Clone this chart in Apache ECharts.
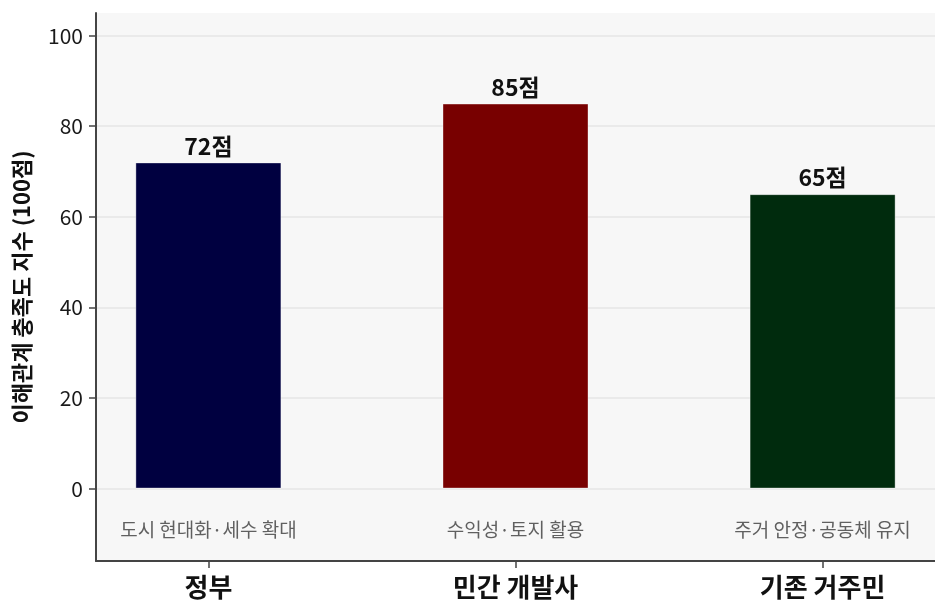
<!DOCTYPE html>
<html>
<head>
<meta charset="utf-8">
<script src="https://cdn.jsdelivr.net/npm/echarts@6/dist/echarts.min.js"></script>
<style>
  html, body { margin: 0; padding: 0; background: #ffffff; }
  #chart { width: 935px; height: 600px; }
</style>
</head>
<body>
<div id="chart"></div>
<script>
// Stakeholder groups and their satisfaction index (out of 100)
const categories = ['정부', '민간 개발사', '기존 거주민'];
const scores = [72, 85, 65];
const notes = ['도시 현대화·세수 확대', '수익성·토지 활용', '주거 안정·공동체 유지'];
const barColors = ['#000040', '#780000', '#002b0d'];
const yTicks = [0, 20, 40, 60, 80, 100];
const noteLevel = -9;

const FONT = '"Noto Sans CJK KR", "Noto Sans", sans-serif';

const chart = echarts.init(document.getElementById('chart'), null, { renderer: 'canvas' });

const positions = categories.map((_, i) => i);

chart.setOption({
  backgroundColor: '#ffffff',
  animation: false,
  textStyle: { fontFamily: FONT },
  grid: {
    left: 96, right: -5, top: 13, bottom: 35,
    show: true, backgroundColor: '#f7f7f7', borderWidth: 0
  },
  xAxis: {
    type: 'value',
    min: -0.366, max: 2.366,
    axisLine: { show: true, onZero: false, lineStyle: { color: '#444', width: 2 } },
    axisTick: { show: true, customValues: positions, length: 7, lineStyle: { color: '#444', width: 1.5 } },
    axisLabel: {
      customValues: positions,
      formatter: v => categories[Math.round(v)],
      fontFamily: FONT, fontSize: 26, fontWeight: 'bold', color: '#111', margin: 13
    },
    splitLine: { show: false }
  },
  yAxis: {
    type: 'value',
    min: -16, max: 105,
    name: '이해관계 충족도 지수 (100점)',
    nameLocation: 'middle',
    nameGap: 63,
    nameTextStyle: { fontFamily: FONT, fontSize: 22, fontWeight: 'bold', color: '#111' },
    axisLine: { show: true, onZero: false, lineStyle: { color: '#444', width: 2 } },
    axisTick: { show: true, customValues: yTicks, length: 7, lineStyle: { color: '#444', width: 1.5 } },
    axisLabel: {
      customValues: yTicks,
      fontFamily: FONT, fontSize: 21, color: '#1a1a1a', margin: 13
    },
    splitLine: { show: true, lineStyle: { color: '#e6e6e6', width: 1.5 } }
  },
  series: [
    {
      type: 'bar',
      barWidth: 146,
      data: scores.map((s, i) => ({
        value: [i, s],
        itemStyle: { color: barColors[i], borderColor: 'rgba(255,255,255,0.35)', borderWidth: 1 }
      })),
      label: {
        show: true,
        position: 'top',
        distance: 5,
        formatter: p => p.value[1] + '점',
        fontFamily: FONT, fontSize: 23, fontWeight: 'bold', color: '#111'
      }
    },
    {
      type: 'scatter',
      symbolSize: 0,
      silent: true,
      data: notes.map((n, i) => [i, noteLevel]),
      label: {
        show: true,
        position: 'inside',
        formatter: p => notes[p.dataIndex],
        fontFamily: FONT, fontSize: 19, color: '#3a3a3a'
      }
    }
  ]
});
</script>
</body>
</html>
